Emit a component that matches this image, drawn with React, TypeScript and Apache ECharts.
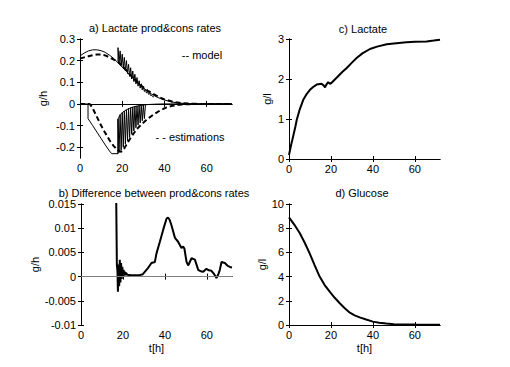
import React, { useEffect, useRef } from "react";
import * as echarts from "echarts";

// ---------- data ----------
// a) Lactate production & consumption rates (g/h) vs t (h)
const prodModel: number[][] = [
  [0, 0.222], [2, 0.235], [4, 0.245], [6, 0.25], [8, 0.25], [10, 0.246], [12, 0.238],
  [14, 0.225], [16, 0.21], [18, 0.19], [20, 0.17], [22, 0.15], [24, 0.13], [26, 0.11],
  [28, 0.092], [30, 0.075], [32, 0.058], [34, 0.045], [36, 0.034], [38, 0.025],
  [40, 0.018], [44, 0.008], [48, 0.003], [52, 0.001], [56, 0], [72, 0],
];
const prodEstim: number[][] = [
  [0, 0.21], [2, 0.215], [4, 0.22], [6, 0.225], [8, 0.228], [10, 0.228], [12, 0.224],
  [14, 0.215], [16, 0.205], [18, 0.195], [20, 0.175], [22, 0.155], [24, 0.132],
  [26, 0.112], [28, 0.093], [30, 0.077], [32, 0.062], [34, 0.05], [36, 0.039],
  [38, 0.029], [40, 0.021], [44, 0.01], [48, 0.004], [52, 0.001], [56, 0], [72, 0],
];
const prodEstimOsc: number[][] = [
  [18, 0.195], [18, 0.26], [18.5, 0.19], [19, 0.245], [19.5, 0.177], [20, 0.23],
  [20.5, 0.165], [21, 0.215], [21.5, 0.152], [22, 0.2], [22.5, 0.14], [23, 0.183],
  [23.5, 0.127], [24, 0.167], [24.5, 0.115], [25, 0.152], [25.5, 0.103], [26, 0.137],
  [26.5, 0.092], [27, 0.122], [27.5, 0.082], [28, 0.107], [28.5, 0.073], [29, 0.093],
  [29.5, 0.065], [30, 0.08], [30.5, 0.057], [31, 0.068], [31.5, 0.05], [32, 0.058],
  [32.5, 0.044], [33, 0.048], [33.5, 0.038], [34, 0.04], [34.5, 0.033], [35, 0.033],
];
const consModel: number[][] = [
  [0, 0], [3.8, 0], [3.8, -0.068], [6, -0.1], [8, -0.13], [10, -0.16], [12, -0.19],
  [14, -0.218], [15, -0.23], [18, -0.23], [18, -0.07], [19, -0.05], [20, -0.04],
  [22, -0.027], [24, -0.018], [26, -0.012], [28, -0.008], [30, -0.005], [32, -0.003],
  [36, -0.001], [40, 0], [72, 0],
];
const consEstim: number[][] = [
  [0, 0], [4.5, 0], [5, -0.005], [6, -0.02], [8, -0.06], [10, -0.1], [12, -0.135],
  [14, -0.168], [16, -0.195], [18, -0.215], [19.5, -0.222], [21, -0.205], [23, -0.172],
  [25, -0.142], [27, -0.116], [29, -0.095], [31, -0.078], [33, -0.062], [35, -0.048],
  [38, -0.03], [41, -0.016], [44, -0.008], [48, -0.003], [52, -0.001], [56, 0], [72, 0],
];
const consEstimOsc: number[][] = [
  [18, -0.23], [18, -0.07], [18.5, -0.225], [19, -0.05], [19.5, -0.215], [20, -0.04],
  [20.5, -0.2], [21, -0.033], [21.5, -0.185], [22, -0.027], [22.5, -0.17], [23, -0.022],
  [23.5, -0.155], [24, -0.018], [24.5, -0.14], [25, -0.015], [25.5, -0.125], [26, -0.012],
  [26.5, -0.11], [27, -0.01], [27.5, -0.098], [28, -0.008], [28.5, -0.088], [29, -0.006],
  [29.5, -0.078], [30, -0.005], [30.5, -0.068], [31, -0.004],
];

// b) Difference between production & consumption rates (g/h)
const diffRate: number[][] = [
  [16.7, 0.02], [17.1, 0.0024], [17.4, 0.001], [17.6, -0.0031], [17.9, 0.0025],
  [18.2, -0.002], [18.5, 0.0035], [18.8, -0.0012], [19.1, 0.0028], [19.4, -0.0005],
  [19.7, 0.002], [20, 0], [20.3, 0.0014], [20.6, 0.0002], [20.9, 0.001], [21.2, 0.0003],
  [21.5, 0.0008], [22, 0.0004], [24, 0.0003], [26, 0.0003], [28, 0.0003], [29.5, 0.0005],
  [31, 0.0013], [32, 0.0018], [33.6, 0.0028], [35.2, 0.003], [36, 0.0048], [37.6, 0.0072],
  [39.2, 0.0097], [40.8, 0.012], [41.5, 0.0122], [42.3, 0.0117], [43.2, 0.0105],
  [44.8, 0.008], [46.3, 0.0072], [47.9, 0.0059], [48.7, 0.0062], [49.3, 0.0058],
  [50.3, 0.0031], [51.1, 0.0023], [52.7, 0.0038], [54.3, 0.0035], [55.9, 0.0014],
  [57, 0.0011], [58.3, 0.001], [59.8, 0.0016], [61, 0.0013], [62.2, 0.0012],
  [63.5, 0.0005], [64.6, -0.0003], [65.5, 0.0005], [66.2, 0.0014], [67, 0.003],
  [68.6, 0.0028], [70, 0.0022], [71, 0.002], [72, 0.0019],
];

// c) Lactate (g/l)
const lactate: number[][] = [
  [0, 0.1], [1, 0.35], [2, 0.57], [3, 0.8], [3.7, 0.98], [5, 1.22], [6.8, 1.48],
  [8.5, 1.63], [10, 1.73], [11.5, 1.8], [13.2, 1.86], [15.5, 1.88], [16.5, 1.84],
  [17.2, 1.79], [17.8, 1.86], [18.7, 1.92], [19.5, 1.88], [20.2, 1.9], [21.5, 1.97],
  [23.4, 2.07], [25.5, 2.18], [27.4, 2.27], [30, 2.41], [32.1, 2.52], [35, 2.64],
  [38.6, 2.75], [42, 2.81], [46.6, 2.87], [50, 2.89], [56, 2.92], [60, 2.93],
  [65.6, 2.94], [69, 2.96], [72, 2.98],
];

// d) Glucose (g/l)
const glucose: number[][] = [
  [0, 8.9], [2.5, 8.3], [5.1, 7.6], [7.5, 6.8], [9.9, 5.9], [12.2, 4.95], [14.6, 4.0],
  [17, 3.3], [19.4, 2.76], [21.8, 2.25], [24.2, 1.8], [26.6, 1.38], [29, 1.02],
  [31.3, 0.8], [33.7, 0.63], [36.8, 0.45], [40, 0.28], [43, 0.18], [46.4, 0.12],
  [50, 0.07], [52.8, 0.05], [60, 0.04], [72, 0.03],
];

// tick labels
const xTicks = [0, 20, 40, 60];
const yTicksA = [-0.2, -0.1, 0, 0.1, 0.2, 0.3];
const yTicksB = [-0.01, -0.005, 0, 0.005, 0.01, 0.015];
const yTicksC = [0, 1, 2, 3];
const yTicksD = [0, 2, 4, 6, 8, 10];

const FONT = "Liberation Sans, Arial, sans-serif";
const FS = 11;

export default function App() {
  const ref = useRef<HTMLDivElement>(null);

  useEffect(() => {
    document.body.style.margin = "0";
    if (!ref.current) return;
    const chart = echarts.init(ref.current, undefined, { renderer: "svg" });

    const grids = [
      { left: 80, top: 39, width: 152, height: 119 }, // a
      { left: 81, top: 204, width: 151, height: 121 }, // b
      { left: 289, top: 39, width: 151, height: 120 }, // c
      { left: 289, top: 204, width: 151, height: 121 }, // d
    ];
    const yDefs = [
      { min: -0.25, max: 0.3, ticks: yTicksA, name: "g/h", gap: 32 },
      { min: -0.01, max: 0.015, ticks: yTicksB, name: "g/h", gap: 32 },
      { min: 0, max: 3, ticks: yTicksC, name: "g/l", gap: 17 },
      { min: 0, max: 10, ticks: yTicksD, name: "g/l", gap: 18 },
    ];
    const xNames = ["", "t[h]", "", "t[h]"];

    const line = { lineStyle: { color: "#000", width: 1 } };
    const tickIn = { show: true, inside: true, length: 3, lineStyle: { color: "#000" } };
    const labelStyle = { color: "#000", fontFamily: FONT, fontSize: FS };

    const xAxis: any[] = [];
    const yAxis: any[] = [];
    grids.forEach((_, i) => {
      xAxis.push({
        type: "value", gridIndex: i, min: 0, max: 72, position: "bottom",
        axisLine: line, axisTick: { ...tickIn, customValues: xTicks },
        axisLabel: { ...labelStyle, margin: 4, customValues: xTicks },
        splitLine: { show: false },
        name: xNames[i], nameLocation: "middle", nameGap: 17,
        nameTextStyle: labelStyle,
      });
      xAxis.push({
        type: "value", gridIndex: i, min: 0, max: 72, position: "top",
        axisLine: line, axisTick: { ...tickIn, customValues: xTicks },
        axisLabel: { show: false }, splitLine: { show: false },
      });
      const yd = yDefs[i];
      yAxis.push({
        type: "value", gridIndex: i, min: yd.min, max: yd.max, position: "left",
        axisLine: line, axisTick: { ...tickIn, customValues: yd.ticks },
        axisLabel: { ...labelStyle, margin: 5, customValues: yd.ticks },
        splitLine: { show: false },
        name: yd.name, nameLocation: "middle", nameGap: yd.gap, nameRotate: 90,
        nameTextStyle: labelStyle,
      });
      yAxis.push({
        type: "value", gridIndex: i, min: yd.min, max: yd.max, position: "right",
        axisLine: line, axisTick: { ...tickIn, customValues: yd.ticks },
        axisLabel: { show: false }, splitLine: { show: false },
      });
    });

    const thin = (name: string, data: number[][], g: number) => ({
      type: "line", name, data, xAxisIndex: g * 2, yAxisIndex: g * 2,
      showSymbol: false, symbol: "none", lineStyle: { color: "#000", width: 1 },
    });
    const thick = (name: string, data: number[][], g: number) => ({
      type: "line", name, data, xAxisIndex: g * 2, yAxisIndex: g * 2,
      showSymbol: false, symbol: "none", lineStyle: { color: "#000", width: 2 },
    });
    const dashed = (name: string, data: number[][], g: number) => ({
      type: "line", name, data, xAxisIndex: g * 2, yAxisIndex: g * 2,
      showSymbol: false, symbol: "none",
      lineStyle: { color: "#000", width: 2, type: [5, 3] },
    });

    const series: any[] = [
      thin("Production (model)", prodModel, 0),
      dashed("Production (estimation)", prodEstim, 0),
      thin("Production (estimation, oscillation)", prodEstimOsc, 0),
      thin("Consumption (model)", consModel, 0),
      dashed("Consumption (estimation)", consEstim, 0),
      thin("Consumption (estimation, oscillation)", consEstimOsc, 0),
      {
        ...thick("Difference", diffRate, 1),
        markLine: {
          silent: true, symbol: "none", label: { show: false },
          lineStyle: { color: "#808080", width: 1, type: "solid" },
          data: [{ yAxis: 0 }],
        },
      },
      thick("Lactate", lactate, 2),
      thick("Glucose", glucose, 3),
    ];

    const txt = (text: string, x: number, y: number) => ({
      type: "text", x, y,
      style: {
        text, fill: "#000", font: `${FS}px ${FONT}`,
        textAlign: "center", textVerticalAlign: "middle",
      },
    });

    chart.setOption({
      animation: false,
      backgroundColor: "#fff",
      grid: grids,
      xAxis, yAxis, series,
      graphic: [
        txt("a) Lactate prod&cons rates", 155, 28),
        txt("c) Lactate", 363, 29),
        txt("b) Difference between prod&cons rates", 154, 193),
        txt("d) Glucose", 362, 193),
        txt("-- model", 202, 55),
        txt("- - estimations", 190, 137),
      ],
    });
    return () => chart.dispose();
  }, []);

  return <div ref={ref} style={{ width: 510, height: 367 }} />;
}
